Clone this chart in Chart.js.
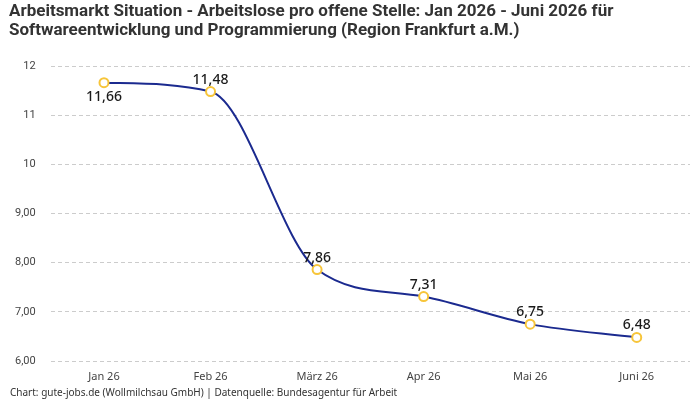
<!DOCTYPE html>
<html>
<head>
<meta charset="utf-8">
<script src="https://cdn.jsdelivr.net/npm/chart.js@4"></script>
<style>
  html, body { margin: 0; padding: 0; background: #fff; }
  #wrap { position: relative; width: 700px; height: 400px; }
</style>
</head>
<body>
<div id="wrap"><canvas id="chart" width="700" height="400"></canvas></div>
<script>
// Data
const months = ['Jan 26', 'Feb 26', 'März 26', 'Apr 26', 'Mai 26', 'Juni 26'];
const ratio = [11.66, 11.48, 7.86, 7.31, 6.75, 6.48];
const labelBelow = [true, false, false, false, false, false];
const yTickValues = [6, 7, 8, 9, 10, 11, 12];
const yTickLabels = ['6,00', '7,00', '8,00', '9,00', '10', '11', '12'];

const titleLines = [
    'Arbeitsmarkt Situation - Arbeitslose pro offene Stelle: Jan 2026 - Juni 2026 für',
    'Softwareentwicklung und Programmierung (Region Frankfurt a.M.)'
];
const footerText = 'Chart: gute-jobs.de (Wollmilchsau GmbH) | Datenquelle: Bundesagentur für Arbeit';

/**
 * Value labels above / below each point
 */
const valueLabels = {
    id: 'valueLabels',
    afterDatasetsDraw(chart) {
        const ctx = chart.ctx;
        const meta = chart.getDatasetMeta(0);
        ctx.save();
        ctx.font = '500 14px "Noto Sans", sans-serif';
        ctx.fillStyle = '#1a1a1a';
        ctx.textAlign = 'center';
        meta.data.forEach((pt, i) => {
            const txt = ratio[i].toFixed(2).replace('.', ',');
            if (labelBelow[i]) {
                ctx.textBaseline = 'top';
                ctx.fillText(txt, pt.x, pt.y + 7);
            } else {
                ctx.textBaseline = 'bottom';
                ctx.fillText(txt, pt.x, pt.y - 5);
            }
        });
        ctx.restore();
    }
};

/**
 * Title (two lines) and footer line
 */
const texts = {
    id: 'texts',
    afterDraw(chart) {
        const ctx = chart.ctx;
        ctx.save();
        ctx.font = 'bold 17px "Roboto", sans-serif';
        ctx.fillStyle = '#333';
        ctx.textAlign = 'left';
        ctx.textBaseline = 'middle';
        titleLines.forEach((line, i) => ctx.fillText(line, 9, 12 + i * 19));

        ctx.font = '10px "Noto Sans", sans-serif';
        ctx.fillStyle = '#333';
        ctx.fillText(footerText, 10, 393);
        ctx.restore();
    }
};

new Chart(document.getElementById('chart'), {
    type: 'line',
    data: {
        labels: months,
        datasets: [{
            data: ratio,
            borderColor: '#1b2a8f',
            borderWidth: 2,
            cubicInterpolationMode: 'monotone',
            pointRadius: 4.5,
            pointBorderWidth: 2,
            pointBorderColor: '#f7c53a',
            pointBackgroundColor: '#ffffff',
            fill: false
        }]
    },
    options: {
        responsive: false,
        animation: false,
        layout: { padding: { left: 0, right: 10, top: 66, bottom: 16 } },
        plugins: {
            legend: { display: false },
            tooltip: { enabled: false },
            title: { display: false }
        },
        scales: {
            x: {
                offset: true,
                grid: { display: false },
                border: { display: false },
                ticks: {
                    color: '#444',
                    font: { family: '"Noto Sans", sans-serif', size: 11, lineHeight: 1 },
                    padding: 2
                }
            },
            y: {
                min: 6,
                max: 12,
                afterBuildTicks(axis) {
                    axis.ticks = yTickValues.map(v => ({ value: v }));
                },
                ticks: {
                    color: '#444',
                    padding: 15,
                    font: { family: '"Roboto", sans-serif', size: 11 },
                    callback: function(value) {
                        const i = yTickValues.indexOf(value);
                        return i >= 0 ? yTickLabels[i] : '';
                    }
                },
                grid: { color: '#cccccc', drawTicks: false },
                border: { display: false, dash: [4, 3] }
            }
        }
    },
    plugins: [valueLabels, texts]
});
</script>
</body>
</html>
